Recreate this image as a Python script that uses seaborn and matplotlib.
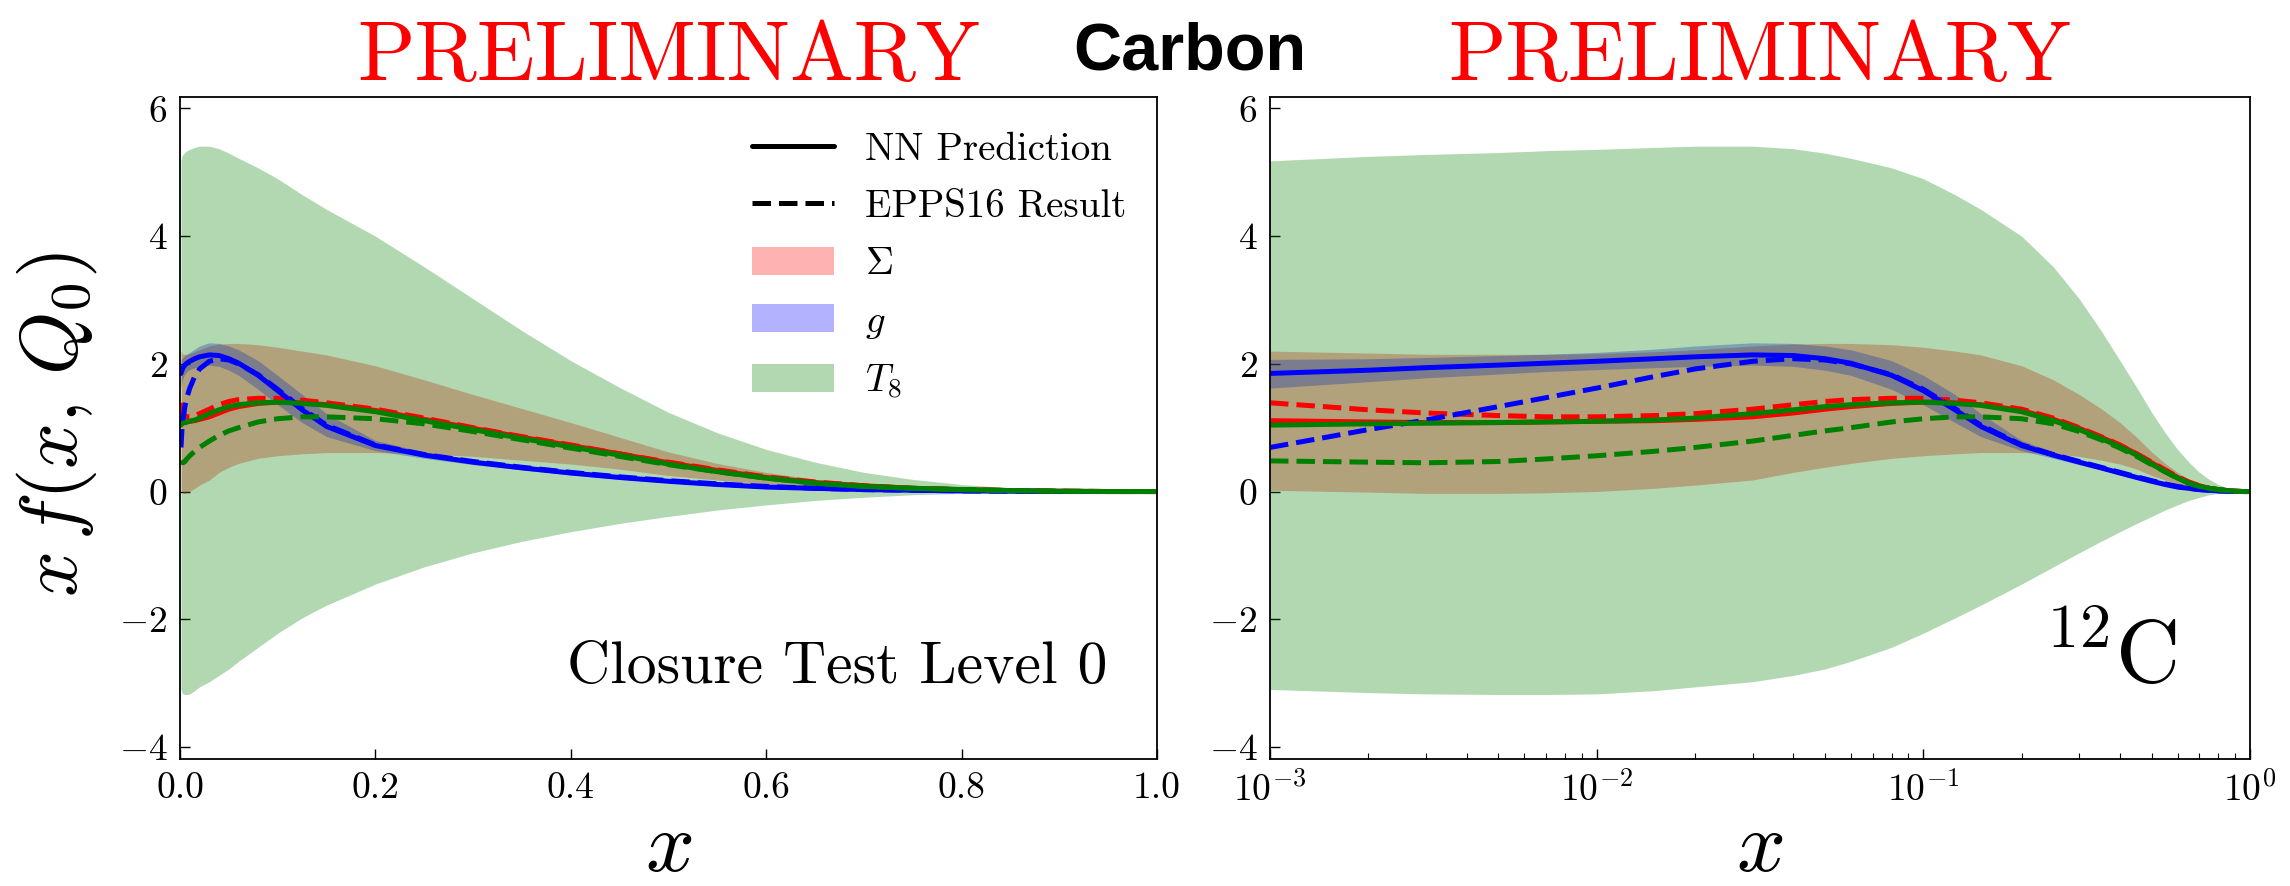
import numpy as np
import pandas as pd
import matplotlib
matplotlib.use("Agg")
import matplotlib.pyplot as plt
import seaborn as sns
from matplotlib.lines import Line2D
from matplotlib.patches import Patch
from matplotlib.ticker import LogLocator, NullFormatter, FixedLocator

# ---------------- data ----------------
x_vals = [0.001, 0.002, 0.003, 0.005, 0.007, 0.01, 0.015, 0.02, 0.03, 0.04, 0.05,
          0.06, 0.08, 0.1, 0.125, 0.15, 0.2, 0.25, 0.3, 0.35, 0.4, 0.45, 0.5,
          0.55, 0.6, 0.65, 0.7, 0.75, 0.8, 0.85, 0.9, 0.95, 1.0]

# Sigma (red)
sigma_nn = [1.11, 1.09, 1.08, 1.08, 1.09, 1.10, 1.11, 1.13, 1.17, 1.23, 1.29,
            1.33, 1.38, 1.40, 1.39, 1.36, 1.27, 1.13, 0.99, 0.85, 0.72, 0.59, 0.45,
            0.33, 0.22, 0.14, 0.09, 0.05, 0.03, 0.015, 0.005, 0.0, 0.0]
sigma_epps = [1.39, 1.28, 1.23, 1.19, 1.17, 1.17, 1.19, 1.22, 1.29, 1.36, 1.41,
              1.44, 1.46, 1.46, 1.43, 1.39, 1.29, 1.15, 1.00, 0.86, 0.73, 0.59, 0.46,
              0.34, 0.23, 0.15, 0.09, 0.05, 0.03, 0.015, 0.005, 0.0, 0.0]
sigma_hi = [2.20, 2.17, 2.15, 2.15, 2.15, 2.16, 2.19, 2.22, 2.28, 2.31, 2.32,
            2.32, 2.30, 2.26, 2.20, 2.14, 1.97, 1.75, 1.52, 1.30, 1.08, 0.85, 0.62,
            0.44, 0.30, 0.19, 0.12, 0.07, 0.04, 0.02, 0.01, 0.0, 0.0]
sigma_lo = [0.02, -0.01, -0.03, -0.03, -0.02, 0.00, 0.05, 0.10, 0.18, 0.30, 0.38,
            0.44, 0.52, 0.56, 0.59, 0.61, 0.61, 0.59, 0.55, 0.49, 0.43, 0.35, 0.25,
            0.18, 0.12, 0.08, 0.05, 0.03, 0.02, 0.01, 0.0, 0.0, 0.0]

# gluon (blue)
g_nn = [1.85, 1.90, 1.94, 1.98, 2.01, 2.04, 2.08, 2.11, 2.14, 2.13, 2.08,
        2.01, 1.82, 1.58, 1.28, 1.02, 0.72, 0.57, 0.46, 0.37, 0.29, 0.22, 0.16,
        0.11, 0.07, 0.05, 0.03, 0.02, 0.01, 0.005, 0.0, 0.0, 0.0]
g_epps = [0.69, 0.97, 1.12, 1.33, 1.47, 1.62, 1.80, 1.92, 2.04, 2.08, 2.06,
          2.00, 1.83, 1.60, 1.30, 1.04, 0.73, 0.58, 0.47, 0.38, 0.30, 0.23, 0.17,
          0.12, 0.08, 0.05, 0.03, 0.02, 0.01, 0.005, 0.0, 0.0, 0.0]
g_hi = [2.07, 2.08, 2.10, 2.13, 2.15, 2.18, 2.23, 2.28, 2.33, 2.32, 2.28,
        2.22, 2.05, 1.82, 1.52, 1.22, 0.80, 0.62, 0.50, 0.40, 0.32, 0.25, 0.18,
        0.13, 0.09, 0.06, 0.04, 0.03, 0.02, 0.01, 0.0, 0.0, 0.0]
g_lo = [1.62, 1.72, 1.78, 1.84, 1.88, 1.91, 1.94, 1.96, 1.98, 1.96, 1.90,
        1.82, 1.60, 1.36, 1.08, 0.86, 0.64, 0.52, 0.42, 0.34, 0.26, 0.19, 0.14,
        0.09, 0.06, 0.04, 0.02, 0.01, 0.0, 0.0, 0.0, 0.0, 0.0]

# T8 (green)
t8_nn = [1.04, 1.06, 1.07, 1.08, 1.09, 1.10, 1.12, 1.15, 1.22, 1.28, 1.33,
         1.36, 1.39, 1.40, 1.38, 1.35, 1.25, 1.11, 0.97, 0.83, 0.70, 0.57, 0.43,
         0.31, 0.21, 0.13, 0.08, 0.05, 0.03, 0.015, 0.005, 0.0, 0.0]
t8_epps = [0.48, 0.46, 0.45, 0.47, 0.51, 0.56, 0.63, 0.69, 0.79, 0.88, 0.95,
           1.00, 1.09, 1.14, 1.17, 1.17, 1.14, 1.06, 0.94, 0.81, 0.68, 0.55, 0.42,
           0.31, 0.21, 0.13, 0.08, 0.05, 0.03, 0.015, 0.005, 0.0, 0.0]
t8_hi = [5.18, 5.25, 5.28, 5.31, 5.34, 5.36, 5.39, 5.41, 5.41, 5.37, 5.30,
         5.22, 5.07, 4.90, 4.65, 4.42, 4.00, 3.52, 3.02, 2.52, 2.05, 1.63, 1.24,
         0.92, 0.66, 0.46, 0.30, 0.19, 0.11, 0.06, 0.03, 0.01, 0.0]
t8_lo = [-3.10, -3.15, -3.17, -3.18, -3.18, -3.17, -3.12, -3.06, -2.98, -2.88, -2.78,
         -2.66, -2.44, -2.22, -1.98, -1.78, -1.45, -1.18, -0.96, -0.78, -0.63, -0.50, -0.39,
         -0.29, -0.21, -0.14, -0.09, -0.05, -0.03, -0.015, -0.005, 0.0, 0.0]

y_ticks = [-4, -2, 0, 2, 4, 6]
lin_ticks = [0.0, 0.2, 0.4, 0.6, 0.8, 1.0]
legend_labels = ["NN Prediction", "EPPS16 Result", r"$\Sigma$", r"$g$", r"$T_8$"]

# ---------------- style ----------------
sns.set_style("ticks")
plt.rcParams["font.family"] = ["cmr10", "DejaVu Serif"]
plt.rcParams["mathtext.fontset"] = "cm"
plt.rcParams["axes.formatter.use_mathtext"] = True
plt.rcParams["axes.unicode_minus"] = True
for key in ["text.color", "axes.labelcolor", "xtick.color", "ytick.color", "axes.edgecolor"]:
    plt.rcParams[key] = "black"

fig = plt.figure(figsize=(22.9, 8.86), dpi=100)
ax1 = fig.add_axes([180/2290, 1-759/886, 977/2290, 662/886])
ax2 = fig.add_axes([1270/2290, 1-759/886, 980/2290, 662/886])

bands = [(sigma_lo, sigma_hi, "red"), (g_lo, g_hi, "blue"), (t8_lo, t8_hi, "green")]
lines = [(sigma_nn, sigma_epps, "red"), (g_nn, g_epps, "blue"), (t8_nn, t8_epps, "green")]
LW = 3.6

ax2.set_xscale("log")
for ax in (ax1, ax2):
    for lo, hi, c in bands:
        ax.fill_between(x_vals, lo, hi, color=c, alpha=0.3, linewidth=0)
    for nn, ep, c in lines:
        sns.lineplot(x=x_vals, y=nn, ax=ax, color=c, linewidth=LW, linestyle="-")
        sns.lineplot(x=x_vals, y=ep, ax=ax, color=c, linewidth=LW, linestyle="--")
    ax.set_ylim(-4.19, 6.18)
    ax.yaxis.set_major_locator(FixedLocator(y_ticks))
    for sp in ax.spines.values():
        sp.set_linewidth(1.3)
        sp.set_color("black")
    ax.set_xlabel(r"$x$", fontsize=62)
    ax.xaxis.set_label_coords(0.5, -0.078)
    ax.set_ylabel("")

ax1.set_xlim(0, 1)
ax1.xaxis.set_major_locator(FixedLocator(lin_ticks))
ax1.set_xticklabels([f"{t:.1f}" for t in lin_ticks])

ax2.set_xlim(1e-3, 1)
ax2.xaxis.set_major_locator(LogLocator(base=10, numticks=10))
ax2.xaxis.set_minor_locator(LogLocator(base=10, subs=np.arange(2, 10), numticks=20))
ax2.xaxis.set_minor_formatter(NullFormatter())

for ax in (ax1, ax2):
    ax.tick_params(axis="both", which="major", direction="in", length=7, width=1.0,
                   labelsize=27, pad=9, top=False, right=False, colors="black")
    ax.tick_params(axis="both", which="minor", direction="in", length=4, width=0.8,
                   top=False, right=False)
    ax.tick_params(axis="y", which="minor", left=False)

ax1.set_ylabel(r"$x\,f(x,\,Q_0)$", fontsize=58)
ax1.yaxis.set_label_coords(-0.083, 0.506)

# legend
handles = [Line2D([], [], color="black", lw=LW, linestyle="-"),
           Line2D([], [], color="black", lw=LW, linestyle="--"),
           Patch(facecolor="red", alpha=0.3, linewidth=0),
           Patch(facecolor="blue", alpha=0.3, linewidth=0),
           Patch(facecolor="green", alpha=0.3, linewidth=0)]
ax1.legend(handles, legend_labels, loc="upper left", bbox_to_anchor=(0.55, 1.0),
           frameon=False, fontsize=28, handlelength=2.1, handleheight=0.75,
           handletextpad=0.8, labelspacing=0.55)

ax1.text(0.949, 0.115, "Closure Test Level 0", transform=ax1.transAxes,
         ha="right", va="baseline", fontsize=43)
ax2.text(0.925, 0.115, r"$^{12}\mathrm{C}$", transform=ax2.transAxes,
         ha="right", va="baseline", fontsize=64)

# titles
fig.text((180 + 1157) / 2 / 2290, 1 - 80/886, "PRELIMINARY", color="red",
         ha="center", va="baseline", fontsize=61)
fig.text((1270 + 2250) / 2 / 2290, 1 - 80/886, "PRELIMINARY", color="red",
         ha="center", va="baseline", fontsize=61)
fig.text(1190/2290, 1 - 70/886, "Carbon", family=["Liberation Sans", "DejaVu Sans"],
         color="black", fontweight="bold", ha="center", va="baseline", fontsize=48)

fig.savefig("out.png", dpi=100)
